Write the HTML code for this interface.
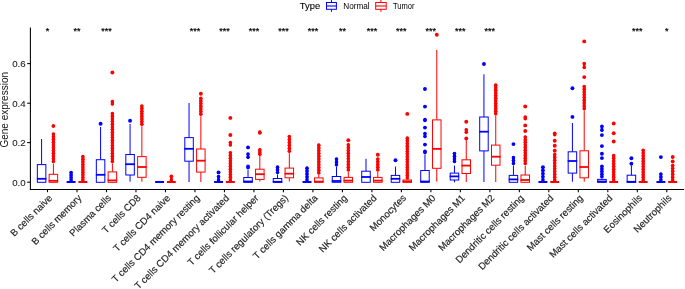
<!DOCTYPE html>
<html><head><meta charset="utf-8"><style>
html,body{margin:0;padding:0;background:#fff;}
body{width:685px;height:289px;overflow:hidden;}
svg{display:block;will-change:transform;}
text{font-family:"Liberation Sans",sans-serif;}
.tk{font-size:9.7px;fill:#222222;stroke:#222222;stroke-width:0.1px;}
.xl{font-size:9.7px;fill:#222222;stroke:#222222;stroke-width:0.15px;}
.st{font-size:9px;fill:#000;stroke:#000;stroke-width:0.2px;}
.yt{font-size:10px;fill:#111;}
.lt{font-size:9.4px;fill:#000;stroke:#000;stroke-width:0.1px;}
.lx{font-size:8.2px;fill:#000;}
</style></head><body>
<svg width="685" height="289" viewBox="0 0 685 289">
<rect width="685" height="289" fill="#fff"/>
<line x1="30.4" y1="27.4" x2="30.4" y2="190" stroke="#000000" stroke-width="1.07"/>
<line x1="29.9" y1="189.5" x2="684.2" y2="189.5" stroke="#000000" stroke-width="1.07"/>
<line x1="27.2" y1="182.2" x2="30.4" y2="182.2" stroke="#000000" stroke-width="1.07"/>
<text x="25.6" y="185.7" text-anchor="end" class="tk">0.0</text>
<line x1="27.2" y1="142.6" x2="30.4" y2="142.6" stroke="#000000" stroke-width="1.07"/>
<text x="25.6" y="146.1" text-anchor="end" class="tk">0.2</text>
<line x1="27.2" y1="103.2" x2="30.4" y2="103.2" stroke="#000000" stroke-width="1.07"/>
<text x="25.6" y="106.7" text-anchor="end" class="tk">0.4</text>
<line x1="27.2" y1="63.6" x2="30.4" y2="63.6" stroke="#000000" stroke-width="1.07"/>
<text x="25.6" y="67.1" text-anchor="end" class="tk">0.6</text>
<line x1="41.6" y1="139" x2="41.6" y2="164.6" stroke="#0000FF" stroke-width="1"/>
<rect x="37.35" y="164.6" width="8.5" height="17.7" fill="#fff" stroke="#0000FF" stroke-width="1"/>
<line x1="36.85" y1="178.8" x2="46.35" y2="178.8" stroke="#0000FF" stroke-width="1.8"/>
<line x1="53.4" y1="126" x2="53.4" y2="126" stroke="#FF0000" stroke-width="2.6" stroke-linecap="round"/>
<circle cx="53.4" cy="126" r="1.8" fill="#FF0000"/>
<circle cx="53.4" cy="126" r="1.8" fill="#FF0000"/>
<line x1="53.4" y1="134.05" x2="53.4" y2="161.45" stroke="#FF0000" stroke-width="2.6" stroke-linecap="round"/>
<circle cx="53.4" cy="134.05" r="1.8" fill="#FF0000"/>
<circle cx="53.4" cy="136.79" r="1.8" fill="#FF0000"/>
<circle cx="53.4" cy="139.53" r="1.8" fill="#FF0000"/>
<circle cx="53.4" cy="142.27" r="1.8" fill="#FF0000"/>
<circle cx="53.4" cy="145.01" r="1.8" fill="#FF0000"/>
<circle cx="53.4" cy="147.75" r="1.8" fill="#FF0000"/>
<circle cx="53.4" cy="150.49" r="1.8" fill="#FF0000"/>
<circle cx="53.4" cy="153.23" r="1.8" fill="#FF0000"/>
<circle cx="53.4" cy="155.97" r="1.8" fill="#FF0000"/>
<circle cx="53.4" cy="158.71" r="1.8" fill="#FF0000"/>
<circle cx="53.4" cy="161.45" r="1.8" fill="#FF0000"/>
<line x1="53.4" y1="163.6" x2="53.4" y2="174.3" stroke="#FF0000" stroke-width="1"/>
<rect x="49.15" y="174.3" width="8.5" height="8" fill="#fff" stroke="#FF0000" stroke-width="1"/>
<line x1="48.65" y1="180.8" x2="58.15" y2="180.8" stroke="#FF0000" stroke-width="1.8"/>
<line x1="47.5" y1="189.5" x2="47.5" y2="192.2" stroke="#000000" stroke-width="1.07"/>
<text x="47.5" y="34.4" text-anchor="middle" class="st">*</text>
<text transform="translate(52.8 198.6) rotate(-45)" text-anchor="end" class="xl">B cells naive</text>
<line x1="71.09" y1="172.45" x2="71.09" y2="180.05" stroke="#0000FF" stroke-width="2.6" stroke-linecap="round"/>
<circle cx="71.09" cy="172.45" r="1.8" fill="#0000FF"/>
<circle cx="71.09" cy="174.98" r="1.8" fill="#0000FF"/>
<circle cx="71.09" cy="177.52" r="1.8" fill="#0000FF"/>
<circle cx="71.09" cy="180.05" r="1.8" fill="#0000FF"/>
<line x1="66.64" y1="182" x2="75.54" y2="182" stroke="#0000FF" stroke-width="2"/>
<line x1="82.89" y1="156.65" x2="82.89" y2="180.05" stroke="#FF0000" stroke-width="2.6" stroke-linecap="round"/>
<circle cx="82.89" cy="156.65" r="1.8" fill="#FF0000"/>
<circle cx="82.89" cy="159.25" r="1.8" fill="#FF0000"/>
<circle cx="82.89" cy="161.85" r="1.8" fill="#FF0000"/>
<circle cx="82.89" cy="164.45" r="1.8" fill="#FF0000"/>
<circle cx="82.89" cy="167.05" r="1.8" fill="#FF0000"/>
<circle cx="82.89" cy="169.65" r="1.8" fill="#FF0000"/>
<circle cx="82.89" cy="172.25" r="1.8" fill="#FF0000"/>
<circle cx="82.89" cy="174.85" r="1.8" fill="#FF0000"/>
<circle cx="82.89" cy="177.45" r="1.8" fill="#FF0000"/>
<circle cx="82.89" cy="180.05" r="1.8" fill="#FF0000"/>
<line x1="78.44" y1="182" x2="87.34" y2="182" stroke="#FF0000" stroke-width="2"/>
<line x1="76.99" y1="189.5" x2="76.99" y2="192.2" stroke="#000000" stroke-width="1.07"/>
<text x="76.99" y="34.4" text-anchor="middle" class="st">**</text>
<text transform="translate(82.29 198.6) rotate(-45)" text-anchor="end" class="xl">B cells memory</text>
<circle cx="100.58" cy="123.8" r="1.95" fill="#0000FF"/>
<line x1="100.58" y1="127" x2="100.58" y2="159.7" stroke="#0000FF" stroke-width="1"/>
<rect x="96.33" y="159.7" width="8.5" height="22.6" fill="#fff" stroke="#0000FF" stroke-width="1"/>
<line x1="95.83" y1="174.8" x2="105.33" y2="174.8" stroke="#0000FF" stroke-width="1.8"/>
<circle cx="112.38" cy="72.5" r="1.95" fill="#FF0000"/>
<line x1="112.38" y1="101.65" x2="112.38" y2="103.95" stroke="#FF0000" stroke-width="2.6" stroke-linecap="round"/>
<circle cx="112.38" cy="101.65" r="1.8" fill="#FF0000"/>
<circle cx="112.38" cy="103.95" r="1.8" fill="#FF0000"/>
<line x1="112.38" y1="113.65" x2="112.38" y2="161.45" stroke="#FF0000" stroke-width="2.6" stroke-linecap="round"/>
<circle cx="112.38" cy="113.65" r="1.8" fill="#FF0000"/>
<circle cx="112.38" cy="116.31" r="1.8" fill="#FF0000"/>
<circle cx="112.38" cy="118.96" r="1.8" fill="#FF0000"/>
<circle cx="112.38" cy="121.62" r="1.8" fill="#FF0000"/>
<circle cx="112.38" cy="124.27" r="1.8" fill="#FF0000"/>
<circle cx="112.38" cy="126.93" r="1.8" fill="#FF0000"/>
<circle cx="112.38" cy="129.58" r="1.8" fill="#FF0000"/>
<circle cx="112.38" cy="132.24" r="1.8" fill="#FF0000"/>
<circle cx="112.38" cy="134.89" r="1.8" fill="#FF0000"/>
<circle cx="112.38" cy="137.55" r="1.8" fill="#FF0000"/>
<circle cx="112.38" cy="140.21" r="1.8" fill="#FF0000"/>
<circle cx="112.38" cy="142.86" r="1.8" fill="#FF0000"/>
<circle cx="112.38" cy="145.52" r="1.8" fill="#FF0000"/>
<circle cx="112.38" cy="148.17" r="1.8" fill="#FF0000"/>
<circle cx="112.38" cy="150.83" r="1.8" fill="#FF0000"/>
<circle cx="112.38" cy="153.48" r="1.8" fill="#FF0000"/>
<circle cx="112.38" cy="156.14" r="1.8" fill="#FF0000"/>
<circle cx="112.38" cy="158.79" r="1.8" fill="#FF0000"/>
<circle cx="112.38" cy="161.45" r="1.8" fill="#FF0000"/>
<line x1="112.38" y1="163.4" x2="112.38" y2="171.9" stroke="#FF0000" stroke-width="1"/>
<rect x="108.13" y="171.9" width="8.5" height="10.4" fill="#fff" stroke="#FF0000" stroke-width="1"/>
<line x1="107.63" y1="180.4" x2="117.13" y2="180.4" stroke="#FF0000" stroke-width="1.8"/>
<line x1="106.48" y1="189.5" x2="106.48" y2="192.2" stroke="#000000" stroke-width="1.07"/>
<text x="106.48" y="34.4" text-anchor="middle" class="st">***</text>
<text transform="translate(111.78 198.6) rotate(-45)" text-anchor="end" class="xl">Plasma cells</text>
<circle cx="130.07" cy="120.8" r="1.95" fill="#0000FF"/>
<line x1="130.07" y1="124" x2="130.07" y2="154.5" stroke="#0000FF" stroke-width="1"/>
<line x1="130.07" y1="175" x2="130.07" y2="181.7" stroke="#0000FF" stroke-width="1"/>
<rect x="125.82" y="154.5" width="8.5" height="20.5" fill="#fff" stroke="#0000FF" stroke-width="1"/>
<line x1="125.32" y1="164.2" x2="134.82" y2="164.2" stroke="#0000FF" stroke-width="1.8"/>
<line x1="141.87" y1="105.95" x2="141.87" y2="124.25" stroke="#FF0000" stroke-width="2.6" stroke-linecap="round"/>
<circle cx="141.87" cy="105.95" r="1.8" fill="#FF0000"/>
<circle cx="141.87" cy="108.56" r="1.8" fill="#FF0000"/>
<circle cx="141.87" cy="111.18" r="1.8" fill="#FF0000"/>
<circle cx="141.87" cy="113.79" r="1.8" fill="#FF0000"/>
<circle cx="141.87" cy="116.41" r="1.8" fill="#FF0000"/>
<circle cx="141.87" cy="119.02" r="1.8" fill="#FF0000"/>
<circle cx="141.87" cy="121.64" r="1.8" fill="#FF0000"/>
<circle cx="141.87" cy="124.25" r="1.8" fill="#FF0000"/>
<line x1="141.87" y1="126.2" x2="141.87" y2="156.6" stroke="#FF0000" stroke-width="1"/>
<line x1="141.87" y1="177.3" x2="141.87" y2="181.7" stroke="#FF0000" stroke-width="1"/>
<rect x="137.62" y="156.6" width="8.5" height="20.7" fill="#fff" stroke="#FF0000" stroke-width="1"/>
<line x1="137.12" y1="167" x2="146.62" y2="167" stroke="#FF0000" stroke-width="1.8"/>
<line x1="135.97" y1="189.5" x2="135.97" y2="192.2" stroke="#000000" stroke-width="1.07"/>
<text transform="translate(141.27 198.6) rotate(-45)" text-anchor="end" class="xl">T cells CD8</text>
<line x1="155.11" y1="182" x2="164.01" y2="182" stroke="#0000FF" stroke-width="2"/>
<line x1="171.36" y1="176.35" x2="171.36" y2="180.05" stroke="#FF0000" stroke-width="2.6" stroke-linecap="round"/>
<circle cx="171.36" cy="176.35" r="1.8" fill="#FF0000"/>
<circle cx="171.36" cy="180.05" r="1.8" fill="#FF0000"/>
<line x1="166.91" y1="182" x2="175.81" y2="182" stroke="#FF0000" stroke-width="2"/>
<line x1="165.46" y1="189.5" x2="165.46" y2="192.2" stroke="#000000" stroke-width="1.07"/>
<text transform="translate(170.76 198.6) rotate(-45)" text-anchor="end" class="xl">T cells CD4 naive</text>
<line x1="189.05" y1="103" x2="189.05" y2="137.6" stroke="#0000FF" stroke-width="1"/>
<line x1="189.05" y1="161.2" x2="189.05" y2="182" stroke="#0000FF" stroke-width="1"/>
<rect x="184.8" y="137.6" width="8.5" height="23.6" fill="#fff" stroke="#0000FF" stroke-width="1"/>
<line x1="184.3" y1="148.8" x2="193.8" y2="148.8" stroke="#0000FF" stroke-width="1.8"/>
<circle cx="200.85" cy="93.8" r="1.95" fill="#FF0000"/>
<line x1="200.85" y1="98.25" x2="200.85" y2="114.25" stroke="#FF0000" stroke-width="2.6" stroke-linecap="round"/>
<circle cx="200.85" cy="98.25" r="1.8" fill="#FF0000"/>
<circle cx="200.85" cy="100.92" r="1.8" fill="#FF0000"/>
<circle cx="200.85" cy="103.58" r="1.8" fill="#FF0000"/>
<circle cx="200.85" cy="106.25" r="1.8" fill="#FF0000"/>
<circle cx="200.85" cy="108.92" r="1.8" fill="#FF0000"/>
<circle cx="200.85" cy="111.58" r="1.8" fill="#FF0000"/>
<circle cx="200.85" cy="114.25" r="1.8" fill="#FF0000"/>
<line x1="200.85" y1="116.2" x2="200.85" y2="149" stroke="#FF0000" stroke-width="1"/>
<line x1="200.85" y1="172.1" x2="200.85" y2="182" stroke="#FF0000" stroke-width="1"/>
<rect x="196.6" y="149" width="8.5" height="23.1" fill="#fff" stroke="#FF0000" stroke-width="1"/>
<line x1="196.1" y1="160.7" x2="205.6" y2="160.7" stroke="#FF0000" stroke-width="1.8"/>
<line x1="194.95" y1="189.5" x2="194.95" y2="192.2" stroke="#000000" stroke-width="1.07"/>
<text x="194.95" y="34.4" text-anchor="middle" class="st">***</text>
<text transform="translate(200.25 198.6) rotate(-45)" text-anchor="end" class="xl">T cells CD4 memory resting</text>
<circle cx="218.54" cy="172.4" r="1.95" fill="#0000FF"/>
<line x1="218.54" y1="176.45" x2="218.54" y2="180.05" stroke="#0000FF" stroke-width="2.6" stroke-linecap="round"/>
<circle cx="218.54" cy="176.45" r="1.8" fill="#0000FF"/>
<circle cx="218.54" cy="180.05" r="1.8" fill="#0000FF"/>
<line x1="214.09" y1="182" x2="222.99" y2="182" stroke="#0000FF" stroke-width="2"/>
<circle cx="230.34" cy="117.9" r="1.95" fill="#FF0000"/>
<circle cx="230.34" cy="135" r="1.95" fill="#FF0000"/>
<line x1="230.34" y1="142.45" x2="230.34" y2="145.05" stroke="#FF0000" stroke-width="2.6" stroke-linecap="round"/>
<circle cx="230.34" cy="142.45" r="1.8" fill="#FF0000"/>
<circle cx="230.34" cy="145.05" r="1.8" fill="#FF0000"/>
<line x1="230.34" y1="152.75" x2="230.34" y2="180.05" stroke="#FF0000" stroke-width="2.6" stroke-linecap="round"/>
<circle cx="230.34" cy="152.75" r="1.8" fill="#FF0000"/>
<circle cx="230.34" cy="155.48" r="1.8" fill="#FF0000"/>
<circle cx="230.34" cy="158.21" r="1.8" fill="#FF0000"/>
<circle cx="230.34" cy="160.94" r="1.8" fill="#FF0000"/>
<circle cx="230.34" cy="163.67" r="1.8" fill="#FF0000"/>
<circle cx="230.34" cy="166.4" r="1.8" fill="#FF0000"/>
<circle cx="230.34" cy="169.13" r="1.8" fill="#FF0000"/>
<circle cx="230.34" cy="171.86" r="1.8" fill="#FF0000"/>
<circle cx="230.34" cy="174.59" r="1.8" fill="#FF0000"/>
<circle cx="230.34" cy="177.32" r="1.8" fill="#FF0000"/>
<circle cx="230.34" cy="180.05" r="1.8" fill="#FF0000"/>
<line x1="225.89" y1="182" x2="234.79" y2="182" stroke="#FF0000" stroke-width="2"/>
<line x1="224.44" y1="189.5" x2="224.44" y2="192.2" stroke="#000000" stroke-width="1.07"/>
<text x="224.44" y="34.4" text-anchor="middle" class="st">***</text>
<text transform="translate(229.74 198.6) rotate(-45)" text-anchor="end" class="xl">T cells CD4 memory activated</text>
<circle cx="248.03" cy="147.4" r="1.95" fill="#0000FF"/>
<line x1="248.03" y1="153.95" x2="248.03" y2="157.35" stroke="#0000FF" stroke-width="2.6" stroke-linecap="round"/>
<circle cx="248.03" cy="153.95" r="1.8" fill="#0000FF"/>
<circle cx="248.03" cy="157.35" r="1.8" fill="#0000FF"/>
<line x1="248.03" y1="166.35" x2="248.03" y2="167.65" stroke="#0000FF" stroke-width="2.6" stroke-linecap="round"/>
<circle cx="248.03" cy="166.35" r="1.8" fill="#0000FF"/>
<circle cx="248.03" cy="167.65" r="1.8" fill="#0000FF"/>
<line x1="248.03" y1="170" x2="248.03" y2="177.5" stroke="#0000FF" stroke-width="1"/>
<rect x="243.78" y="177.5" width="8.5" height="4.8" fill="#fff" stroke="#0000FF" stroke-width="1"/>
<line x1="243.28" y1="181.5" x2="252.78" y2="181.5" stroke="#0000FF" stroke-width="1.8"/>
<line x1="259.83" y1="132.15" x2="259.83" y2="133.05" stroke="#FF0000" stroke-width="2.6" stroke-linecap="round"/>
<circle cx="259.83" cy="132.15" r="1.8" fill="#FF0000"/>
<circle cx="259.83" cy="133.05" r="1.8" fill="#FF0000"/>
<line x1="259.83" y1="149.75" x2="259.83" y2="154.15" stroke="#FF0000" stroke-width="2.6" stroke-linecap="round"/>
<circle cx="259.83" cy="149.75" r="1.8" fill="#FF0000"/>
<circle cx="259.83" cy="151.95" r="1.8" fill="#FF0000"/>
<circle cx="259.83" cy="154.15" r="1.8" fill="#FF0000"/>
<line x1="259.83" y1="155.7" x2="259.83" y2="169.2" stroke="#FF0000" stroke-width="1"/>
<line x1="259.83" y1="179.4" x2="259.83" y2="181.5" stroke="#FF0000" stroke-width="1"/>
<rect x="255.58" y="169.2" width="8.5" height="10.2" fill="#fff" stroke="#FF0000" stroke-width="1"/>
<line x1="255.08" y1="174.2" x2="264.58" y2="174.2" stroke="#FF0000" stroke-width="1.8"/>
<line x1="253.93" y1="189.5" x2="253.93" y2="192.2" stroke="#000000" stroke-width="1.07"/>
<text x="253.93" y="34.4" text-anchor="middle" class="st">***</text>
<text transform="translate(259.23 198.6) rotate(-45)" text-anchor="end" class="xl">T cells follicular helper</text>
<line x1="277.52" y1="167.15" x2="277.52" y2="172.45" stroke="#0000FF" stroke-width="2.6" stroke-linecap="round"/>
<circle cx="277.52" cy="167.15" r="1.8" fill="#0000FF"/>
<circle cx="277.52" cy="169.8" r="1.8" fill="#0000FF"/>
<circle cx="277.52" cy="172.45" r="1.8" fill="#0000FF"/>
<line x1="277.52" y1="174.4" x2="277.52" y2="178.5" stroke="#0000FF" stroke-width="1"/>
<rect x="273.27" y="178.5" width="8.5" height="3.8" fill="#fff" stroke="#0000FF" stroke-width="1"/>
<line x1="272.77" y1="181.8" x2="282.27" y2="181.8" stroke="#0000FF" stroke-width="1.8"/>
<line x1="289.32" y1="136.55" x2="289.32" y2="151.15" stroke="#FF0000" stroke-width="2.6" stroke-linecap="round"/>
<circle cx="289.32" cy="136.55" r="1.8" fill="#FF0000"/>
<circle cx="289.32" cy="139.47" r="1.8" fill="#FF0000"/>
<circle cx="289.32" cy="142.39" r="1.8" fill="#FF0000"/>
<circle cx="289.32" cy="145.31" r="1.8" fill="#FF0000"/>
<circle cx="289.32" cy="148.23" r="1.8" fill="#FF0000"/>
<circle cx="289.32" cy="151.15" r="1.8" fill="#FF0000"/>
<line x1="289.32" y1="153.1" x2="289.32" y2="168.1" stroke="#FF0000" stroke-width="1"/>
<line x1="289.32" y1="177.8" x2="289.32" y2="181.6" stroke="#FF0000" stroke-width="1"/>
<rect x="285.07" y="168.1" width="8.5" height="9.7" fill="#fff" stroke="#FF0000" stroke-width="1"/>
<line x1="284.57" y1="173.7" x2="294.07" y2="173.7" stroke="#FF0000" stroke-width="1.8"/>
<line x1="283.42" y1="189.5" x2="283.42" y2="192.2" stroke="#000000" stroke-width="1.07"/>
<text x="283.42" y="34.4" text-anchor="middle" class="st">***</text>
<text transform="translate(288.72 198.6) rotate(-45)" text-anchor="end" class="xl">T cells regulatory (Tregs)</text>
<line x1="307.01" y1="168.15" x2="307.01" y2="180.05" stroke="#0000FF" stroke-width="2.6" stroke-linecap="round"/>
<circle cx="307.01" cy="168.15" r="1.8" fill="#0000FF"/>
<circle cx="307.01" cy="171.12" r="1.8" fill="#0000FF"/>
<circle cx="307.01" cy="174.1" r="1.8" fill="#0000FF"/>
<circle cx="307.01" cy="177.07" r="1.8" fill="#0000FF"/>
<circle cx="307.01" cy="180.05" r="1.8" fill="#0000FF"/>
<line x1="302.56" y1="182" x2="311.46" y2="182" stroke="#0000FF" stroke-width="2"/>
<line x1="318.81" y1="145.15" x2="318.81" y2="173.05" stroke="#FF0000" stroke-width="2.6" stroke-linecap="round"/>
<circle cx="318.81" cy="145.15" r="1.8" fill="#FF0000"/>
<circle cx="318.81" cy="147.94" r="1.8" fill="#FF0000"/>
<circle cx="318.81" cy="150.73" r="1.8" fill="#FF0000"/>
<circle cx="318.81" cy="153.52" r="1.8" fill="#FF0000"/>
<circle cx="318.81" cy="156.31" r="1.8" fill="#FF0000"/>
<circle cx="318.81" cy="159.1" r="1.8" fill="#FF0000"/>
<circle cx="318.81" cy="161.89" r="1.8" fill="#FF0000"/>
<circle cx="318.81" cy="164.68" r="1.8" fill="#FF0000"/>
<circle cx="318.81" cy="167.47" r="1.8" fill="#FF0000"/>
<circle cx="318.81" cy="170.26" r="1.8" fill="#FF0000"/>
<circle cx="318.81" cy="173.05" r="1.8" fill="#FF0000"/>
<line x1="318.81" y1="175" x2="318.81" y2="177.9" stroke="#FF0000" stroke-width="1"/>
<rect x="314.56" y="177.9" width="8.5" height="4.4" fill="#fff" stroke="#FF0000" stroke-width="1"/>
<line x1="314.06" y1="181.6" x2="323.56" y2="181.6" stroke="#FF0000" stroke-width="1.8"/>
<line x1="312.91" y1="189.5" x2="312.91" y2="192.2" stroke="#000000" stroke-width="1.07"/>
<text x="312.91" y="34.4" text-anchor="middle" class="st">***</text>
<text transform="translate(318.21 198.6) rotate(-45)" text-anchor="end" class="xl">T cells gamma delta</text>
<line x1="336.5" y1="159.05" x2="336.5" y2="164.85" stroke="#0000FF" stroke-width="2.6" stroke-linecap="round"/>
<circle cx="336.5" cy="159.05" r="1.8" fill="#0000FF"/>
<circle cx="336.5" cy="161.95" r="1.8" fill="#0000FF"/>
<circle cx="336.5" cy="164.85" r="1.8" fill="#0000FF"/>
<line x1="336.5" y1="166.8" x2="336.5" y2="176.5" stroke="#0000FF" stroke-width="1"/>
<rect x="332.25" y="176.5" width="8.5" height="5.8" fill="#fff" stroke="#0000FF" stroke-width="1"/>
<line x1="331.75" y1="181" x2="341.25" y2="181" stroke="#0000FF" stroke-width="1.8"/>
<circle cx="348.3" cy="140.3" r="1.95" fill="#FF0000"/>
<line x1="348.3" y1="144.85" x2="348.3" y2="170.05" stroke="#FF0000" stroke-width="2.6" stroke-linecap="round"/>
<circle cx="348.3" cy="144.85" r="1.8" fill="#FF0000"/>
<circle cx="348.3" cy="147.65" r="1.8" fill="#FF0000"/>
<circle cx="348.3" cy="150.45" r="1.8" fill="#FF0000"/>
<circle cx="348.3" cy="153.25" r="1.8" fill="#FF0000"/>
<circle cx="348.3" cy="156.05" r="1.8" fill="#FF0000"/>
<circle cx="348.3" cy="158.85" r="1.8" fill="#FF0000"/>
<circle cx="348.3" cy="161.65" r="1.8" fill="#FF0000"/>
<circle cx="348.3" cy="164.45" r="1.8" fill="#FF0000"/>
<circle cx="348.3" cy="167.25" r="1.8" fill="#FF0000"/>
<circle cx="348.3" cy="170.05" r="1.8" fill="#FF0000"/>
<line x1="348.3" y1="172" x2="348.3" y2="177.4" stroke="#FF0000" stroke-width="1"/>
<rect x="344.05" y="177.4" width="8.5" height="4.9" fill="#fff" stroke="#FF0000" stroke-width="1"/>
<line x1="343.55" y1="180.6" x2="353.05" y2="180.6" stroke="#FF0000" stroke-width="1.8"/>
<line x1="342.4" y1="189.5" x2="342.4" y2="192.2" stroke="#000000" stroke-width="1.07"/>
<text x="342.4" y="34.4" text-anchor="middle" class="st">**</text>
<text transform="translate(347.7 198.6) rotate(-45)" text-anchor="end" class="xl">NK cells resting</text>
<line x1="365.99" y1="158.8" x2="365.99" y2="171.2" stroke="#0000FF" stroke-width="1"/>
<rect x="361.74" y="171.2" width="8.5" height="11.1" fill="#fff" stroke="#0000FF" stroke-width="1"/>
<line x1="361.24" y1="177" x2="370.74" y2="177" stroke="#0000FF" stroke-width="1.8"/>
<circle cx="377.79" cy="154.8" r="1.95" fill="#FF0000"/>
<line x1="377.79" y1="158.95" x2="377.79" y2="170.05" stroke="#FF0000" stroke-width="2.6" stroke-linecap="round"/>
<circle cx="377.79" cy="158.95" r="1.8" fill="#FF0000"/>
<circle cx="377.79" cy="161.72" r="1.8" fill="#FF0000"/>
<circle cx="377.79" cy="164.5" r="1.8" fill="#FF0000"/>
<circle cx="377.79" cy="167.28" r="1.8" fill="#FF0000"/>
<circle cx="377.79" cy="170.05" r="1.8" fill="#FF0000"/>
<line x1="377.79" y1="172" x2="377.79" y2="177.4" stroke="#FF0000" stroke-width="1"/>
<rect x="373.54" y="177.4" width="8.5" height="4.9" fill="#fff" stroke="#FF0000" stroke-width="1"/>
<line x1="373.04" y1="180.6" x2="382.54" y2="180.6" stroke="#FF0000" stroke-width="1.8"/>
<line x1="371.89" y1="189.5" x2="371.89" y2="192.2" stroke="#000000" stroke-width="1.07"/>
<text x="371.89" y="34.4" text-anchor="middle" class="st">***</text>
<text transform="translate(377.19 198.6) rotate(-45)" text-anchor="end" class="xl">NK cells activated</text>
<circle cx="395.48" cy="160.2" r="1.95" fill="#0000FF"/>
<line x1="395.48" y1="166.6" x2="395.48" y2="175.4" stroke="#0000FF" stroke-width="1"/>
<rect x="391.23" y="175.4" width="8.5" height="6.9" fill="#fff" stroke="#0000FF" stroke-width="1"/>
<line x1="390.73" y1="178.8" x2="400.23" y2="178.8" stroke="#0000FF" stroke-width="1.8"/>
<circle cx="407.28" cy="113.9" r="1.95" fill="#FF0000"/>
<line x1="407.28" y1="138.15" x2="407.28" y2="178.05" stroke="#FF0000" stroke-width="2.6" stroke-linecap="round"/>
<circle cx="407.28" cy="138.15" r="1.8" fill="#FF0000"/>
<circle cx="407.28" cy="140.81" r="1.8" fill="#FF0000"/>
<circle cx="407.28" cy="143.47" r="1.8" fill="#FF0000"/>
<circle cx="407.28" cy="146.13" r="1.8" fill="#FF0000"/>
<circle cx="407.28" cy="148.79" r="1.8" fill="#FF0000"/>
<circle cx="407.28" cy="151.45" r="1.8" fill="#FF0000"/>
<circle cx="407.28" cy="154.11" r="1.8" fill="#FF0000"/>
<circle cx="407.28" cy="156.77" r="1.8" fill="#FF0000"/>
<circle cx="407.28" cy="159.43" r="1.8" fill="#FF0000"/>
<circle cx="407.28" cy="162.09" r="1.8" fill="#FF0000"/>
<circle cx="407.28" cy="164.75" r="1.8" fill="#FF0000"/>
<circle cx="407.28" cy="167.41" r="1.8" fill="#FF0000"/>
<circle cx="407.28" cy="170.07" r="1.8" fill="#FF0000"/>
<circle cx="407.28" cy="172.73" r="1.8" fill="#FF0000"/>
<circle cx="407.28" cy="175.39" r="1.8" fill="#FF0000"/>
<circle cx="407.28" cy="178.05" r="1.8" fill="#FF0000"/>
<rect x="403.03" y="180" width="8.5" height="2.3" fill="#fff" stroke="#FF0000" stroke-width="1"/>
<line x1="402.53" y1="181.5" x2="412.03" y2="181.5" stroke="#FF0000" stroke-width="1.8"/>
<line x1="401.38" y1="189.5" x2="401.38" y2="192.2" stroke="#000000" stroke-width="1.07"/>
<text x="401.38" y="34.4" text-anchor="middle" class="st">***</text>
<text transform="translate(406.68 198.6) rotate(-45)" text-anchor="end" class="xl">Monocytes</text>
<circle cx="424.97" cy="89" r="1.95" fill="#0000FF"/>
<circle cx="424.97" cy="106.6" r="1.95" fill="#0000FF"/>
<line x1="424.97" y1="119.55" x2="424.97" y2="120.45" stroke="#0000FF" stroke-width="2.6" stroke-linecap="round"/>
<circle cx="424.97" cy="119.55" r="1.8" fill="#0000FF"/>
<circle cx="424.97" cy="120.45" r="1.8" fill="#0000FF"/>
<circle cx="424.97" cy="127.6" r="1.95" fill="#0000FF"/>
<line x1="424.97" y1="133.55" x2="424.97" y2="136.45" stroke="#0000FF" stroke-width="2.6" stroke-linecap="round"/>
<circle cx="424.97" cy="133.55" r="1.8" fill="#0000FF"/>
<circle cx="424.97" cy="136.45" r="1.8" fill="#0000FF"/>
<circle cx="424.97" cy="144.6" r="1.95" fill="#0000FF"/>
<line x1="424.97" y1="151.35" x2="424.97" y2="152.45" stroke="#0000FF" stroke-width="2.6" stroke-linecap="round"/>
<circle cx="424.97" cy="151.35" r="1.8" fill="#0000FF"/>
<circle cx="424.97" cy="152.45" r="1.8" fill="#0000FF"/>
<line x1="424.97" y1="154.4" x2="424.97" y2="170.5" stroke="#0000FF" stroke-width="1"/>
<rect x="420.72" y="170.5" width="8.5" height="11.8" fill="#fff" stroke="#0000FF" stroke-width="1"/>
<line x1="420.22" y1="181.5" x2="429.72" y2="181.5" stroke="#0000FF" stroke-width="1.8"/>
<circle cx="436.77" cy="34.8" r="1.95" fill="#FF0000"/>
<line x1="436.77" y1="49.9" x2="436.77" y2="119.9" stroke="#FF0000" stroke-width="1"/>
<line x1="436.77" y1="168.3" x2="436.77" y2="181.7" stroke="#FF0000" stroke-width="1"/>
<rect x="432.52" y="119.9" width="8.5" height="48.4" fill="#fff" stroke="#FF0000" stroke-width="1"/>
<line x1="432.02" y1="148.9" x2="441.52" y2="148.9" stroke="#FF0000" stroke-width="1.8"/>
<line x1="430.87" y1="189.5" x2="430.87" y2="192.2" stroke="#000000" stroke-width="1.07"/>
<text x="430.87" y="34.4" text-anchor="middle" class="st">***</text>
<text transform="translate(436.17 198.6) rotate(-45)" text-anchor="end" class="xl">Macrophages M0</text>
<line x1="454.46" y1="153.55" x2="454.46" y2="161.55" stroke="#0000FF" stroke-width="2.6" stroke-linecap="round"/>
<circle cx="454.46" cy="153.55" r="1.8" fill="#0000FF"/>
<circle cx="454.46" cy="156.22" r="1.8" fill="#0000FF"/>
<circle cx="454.46" cy="158.88" r="1.8" fill="#0000FF"/>
<circle cx="454.46" cy="161.55" r="1.8" fill="#0000FF"/>
<line x1="454.46" y1="165.6" x2="454.46" y2="173.1" stroke="#0000FF" stroke-width="1"/>
<line x1="454.46" y1="180" x2="454.46" y2="182.3" stroke="#0000FF" stroke-width="1"/>
<rect x="450.21" y="173.1" width="8.5" height="6.9" fill="#fff" stroke="#0000FF" stroke-width="1"/>
<line x1="449.71" y1="176.4" x2="459.21" y2="176.4" stroke="#0000FF" stroke-width="1.8"/>
<circle cx="466.26" cy="121.8" r="1.95" fill="#FF0000"/>
<line x1="466.26" y1="129.85" x2="466.26" y2="132.25" stroke="#FF0000" stroke-width="2.6" stroke-linecap="round"/>
<circle cx="466.26" cy="129.85" r="1.8" fill="#FF0000"/>
<circle cx="466.26" cy="132.25" r="1.8" fill="#FF0000"/>
<circle cx="466.26" cy="138.4" r="1.95" fill="#FF0000"/>
<line x1="466.26" y1="140" x2="466.26" y2="159.8" stroke="#FF0000" stroke-width="1"/>
<line x1="466.26" y1="173.5" x2="466.26" y2="182" stroke="#FF0000" stroke-width="1"/>
<rect x="462.01" y="159.8" width="8.5" height="13.7" fill="#fff" stroke="#FF0000" stroke-width="1"/>
<line x1="461.51" y1="165.6" x2="471.01" y2="165.6" stroke="#FF0000" stroke-width="1.8"/>
<line x1="460.36" y1="189.5" x2="460.36" y2="192.2" stroke="#000000" stroke-width="1.07"/>
<text x="460.36" y="34.4" text-anchor="middle" class="st">***</text>
<text transform="translate(465.66 198.6) rotate(-45)" text-anchor="end" class="xl">Macrophages M1</text>
<circle cx="483.95" cy="64" r="1.95" fill="#0000FF"/>
<line x1="483.95" y1="74.3" x2="483.95" y2="117" stroke="#0000FF" stroke-width="1"/>
<line x1="483.95" y1="150.9" x2="483.95" y2="182" stroke="#0000FF" stroke-width="1"/>
<rect x="479.7" y="117" width="8.5" height="33.9" fill="#fff" stroke="#0000FF" stroke-width="1"/>
<line x1="479.2" y1="131.7" x2="488.7" y2="131.7" stroke="#0000FF" stroke-width="1.8"/>
<line x1="495.75" y1="85.15" x2="495.75" y2="113.85" stroke="#FF0000" stroke-width="2.6" stroke-linecap="round"/>
<circle cx="495.75" cy="85.15" r="1.8" fill="#FF0000"/>
<circle cx="495.75" cy="87.76" r="1.8" fill="#FF0000"/>
<circle cx="495.75" cy="90.37" r="1.8" fill="#FF0000"/>
<circle cx="495.75" cy="92.98" r="1.8" fill="#FF0000"/>
<circle cx="495.75" cy="95.59" r="1.8" fill="#FF0000"/>
<circle cx="495.75" cy="98.2" r="1.8" fill="#FF0000"/>
<circle cx="495.75" cy="100.8" r="1.8" fill="#FF0000"/>
<circle cx="495.75" cy="103.41" r="1.8" fill="#FF0000"/>
<circle cx="495.75" cy="106.02" r="1.8" fill="#FF0000"/>
<circle cx="495.75" cy="108.63" r="1.8" fill="#FF0000"/>
<circle cx="495.75" cy="111.24" r="1.8" fill="#FF0000"/>
<circle cx="495.75" cy="113.85" r="1.8" fill="#FF0000"/>
<line x1="495.75" y1="115.8" x2="495.75" y2="145.1" stroke="#FF0000" stroke-width="1"/>
<line x1="495.75" y1="165.2" x2="495.75" y2="182" stroke="#FF0000" stroke-width="1"/>
<rect x="491.5" y="145.1" width="8.5" height="20.1" fill="#fff" stroke="#FF0000" stroke-width="1"/>
<line x1="491" y1="156.7" x2="500.5" y2="156.7" stroke="#FF0000" stroke-width="1.8"/>
<line x1="489.85" y1="189.5" x2="489.85" y2="192.2" stroke="#000000" stroke-width="1.07"/>
<text x="489.85" y="34.4" text-anchor="middle" class="st">***</text>
<text transform="translate(495.15 198.6) rotate(-45)" text-anchor="end" class="xl">Macrophages M2</text>
<circle cx="513.44" cy="144.1" r="1.95" fill="#0000FF"/>
<line x1="513.44" y1="157.65" x2="513.44" y2="163.45" stroke="#0000FF" stroke-width="2.6" stroke-linecap="round"/>
<circle cx="513.44" cy="157.65" r="1.8" fill="#0000FF"/>
<circle cx="513.44" cy="160.55" r="1.8" fill="#0000FF"/>
<circle cx="513.44" cy="163.45" r="1.8" fill="#0000FF"/>
<line x1="513.44" y1="165.4" x2="513.44" y2="175.4" stroke="#0000FF" stroke-width="1"/>
<rect x="509.19" y="175.4" width="8.5" height="6.9" fill="#fff" stroke="#0000FF" stroke-width="1"/>
<line x1="508.69" y1="179.4" x2="518.19" y2="179.4" stroke="#0000FF" stroke-width="1.8"/>
<circle cx="525.24" cy="106.5" r="1.95" fill="#FF0000"/>
<line x1="525.24" y1="116.95" x2="525.24" y2="118.65" stroke="#FF0000" stroke-width="2.6" stroke-linecap="round"/>
<circle cx="525.24" cy="116.95" r="1.8" fill="#FF0000"/>
<circle cx="525.24" cy="118.65" r="1.8" fill="#FF0000"/>
<circle cx="525.24" cy="125.4" r="1.95" fill="#FF0000"/>
<circle cx="525.24" cy="131" r="1.95" fill="#FF0000"/>
<line x1="525.24" y1="137.05" x2="525.24" y2="163.45" stroke="#FF0000" stroke-width="2.6" stroke-linecap="round"/>
<circle cx="525.24" cy="137.05" r="1.8" fill="#FF0000"/>
<circle cx="525.24" cy="139.69" r="1.8" fill="#FF0000"/>
<circle cx="525.24" cy="142.33" r="1.8" fill="#FF0000"/>
<circle cx="525.24" cy="144.97" r="1.8" fill="#FF0000"/>
<circle cx="525.24" cy="147.61" r="1.8" fill="#FF0000"/>
<circle cx="525.24" cy="150.25" r="1.8" fill="#FF0000"/>
<circle cx="525.24" cy="152.89" r="1.8" fill="#FF0000"/>
<circle cx="525.24" cy="155.53" r="1.8" fill="#FF0000"/>
<circle cx="525.24" cy="158.17" r="1.8" fill="#FF0000"/>
<circle cx="525.24" cy="160.81" r="1.8" fill="#FF0000"/>
<circle cx="525.24" cy="163.45" r="1.8" fill="#FF0000"/>
<line x1="525.24" y1="165.6" x2="525.24" y2="175" stroke="#FF0000" stroke-width="1"/>
<rect x="520.99" y="175" width="8.5" height="7.3" fill="#fff" stroke="#FF0000" stroke-width="1"/>
<line x1="520.49" y1="180" x2="529.99" y2="180" stroke="#FF0000" stroke-width="1.8"/>
<line x1="519.34" y1="189.5" x2="519.34" y2="192.2" stroke="#000000" stroke-width="1.07"/>
<text transform="translate(524.64 198.6) rotate(-45)" text-anchor="end" class="xl">Dendritic cells resting</text>
<circle cx="542.93" cy="167.2" r="1.95" fill="#0000FF"/>
<circle cx="542.93" cy="170.4" r="1.95" fill="#0000FF"/>
<line x1="542.93" y1="173.55" x2="542.93" y2="180.05" stroke="#0000FF" stroke-width="2.6" stroke-linecap="round"/>
<circle cx="542.93" cy="173.55" r="1.8" fill="#0000FF"/>
<circle cx="542.93" cy="176.8" r="1.8" fill="#0000FF"/>
<circle cx="542.93" cy="180.05" r="1.8" fill="#0000FF"/>
<line x1="538.48" y1="182" x2="547.38" y2="182" stroke="#0000FF" stroke-width="2"/>
<line x1="554.73" y1="133.25" x2="554.73" y2="134.65" stroke="#FF0000" stroke-width="2.6" stroke-linecap="round"/>
<circle cx="554.73" cy="133.25" r="1.8" fill="#FF0000"/>
<circle cx="554.73" cy="134.65" r="1.8" fill="#FF0000"/>
<circle cx="554.73" cy="140.8" r="1.95" fill="#FF0000"/>
<circle cx="554.73" cy="145.7" r="1.95" fill="#FF0000"/>
<circle cx="554.73" cy="150.7" r="1.95" fill="#FF0000"/>
<line x1="554.73" y1="154.55" x2="554.73" y2="180.05" stroke="#FF0000" stroke-width="2.6" stroke-linecap="round"/>
<circle cx="554.73" cy="154.55" r="1.8" fill="#FF0000"/>
<circle cx="554.73" cy="157.38" r="1.8" fill="#FF0000"/>
<circle cx="554.73" cy="160.22" r="1.8" fill="#FF0000"/>
<circle cx="554.73" cy="163.05" r="1.8" fill="#FF0000"/>
<circle cx="554.73" cy="165.88" r="1.8" fill="#FF0000"/>
<circle cx="554.73" cy="168.72" r="1.8" fill="#FF0000"/>
<circle cx="554.73" cy="171.55" r="1.8" fill="#FF0000"/>
<circle cx="554.73" cy="174.38" r="1.8" fill="#FF0000"/>
<circle cx="554.73" cy="177.22" r="1.8" fill="#FF0000"/>
<circle cx="554.73" cy="180.05" r="1.8" fill="#FF0000"/>
<line x1="550.28" y1="182" x2="559.18" y2="182" stroke="#FF0000" stroke-width="2"/>
<line x1="548.83" y1="189.5" x2="548.83" y2="192.2" stroke="#000000" stroke-width="1.07"/>
<text transform="translate(554.13 198.6) rotate(-45)" text-anchor="end" class="xl">Dendritic cells activated</text>
<circle cx="572.42" cy="88.2" r="1.95" fill="#0000FF"/>
<circle cx="572.42" cy="116.9" r="1.95" fill="#0000FF"/>
<line x1="572.42" y1="123" x2="572.42" y2="151.8" stroke="#0000FF" stroke-width="1"/>
<line x1="572.42" y1="173.1" x2="572.42" y2="181.7" stroke="#0000FF" stroke-width="1"/>
<rect x="568.17" y="151.8" width="8.5" height="21.3" fill="#fff" stroke="#0000FF" stroke-width="1"/>
<line x1="567.67" y1="161" x2="577.17" y2="161" stroke="#0000FF" stroke-width="1.8"/>
<circle cx="584.22" cy="41.4" r="1.95" fill="#FF0000"/>
<line x1="584.22" y1="63.55" x2="584.22" y2="67.55" stroke="#FF0000" stroke-width="2.6" stroke-linecap="round"/>
<circle cx="584.22" cy="63.55" r="1.8" fill="#FF0000"/>
<circle cx="584.22" cy="67.55" r="1.8" fill="#FF0000"/>
<circle cx="584.22" cy="77.1" r="1.95" fill="#FF0000"/>
<line x1="584.22" y1="86.55" x2="584.22" y2="108.65" stroke="#FF0000" stroke-width="2.6" stroke-linecap="round"/>
<circle cx="584.22" cy="86.55" r="1.8" fill="#FF0000"/>
<circle cx="584.22" cy="89.31" r="1.8" fill="#FF0000"/>
<circle cx="584.22" cy="92.07" r="1.8" fill="#FF0000"/>
<circle cx="584.22" cy="94.84" r="1.8" fill="#FF0000"/>
<circle cx="584.22" cy="97.6" r="1.8" fill="#FF0000"/>
<circle cx="584.22" cy="100.36" r="1.8" fill="#FF0000"/>
<circle cx="584.22" cy="103.12" r="1.8" fill="#FF0000"/>
<circle cx="584.22" cy="105.89" r="1.8" fill="#FF0000"/>
<circle cx="584.22" cy="108.65" r="1.8" fill="#FF0000"/>
<line x1="584.22" y1="110.6" x2="584.22" y2="150.8" stroke="#FF0000" stroke-width="1"/>
<line x1="584.22" y1="177.8" x2="584.22" y2="181.7" stroke="#FF0000" stroke-width="1"/>
<rect x="579.97" y="150.8" width="8.5" height="27" fill="#fff" stroke="#FF0000" stroke-width="1"/>
<line x1="579.47" y1="167" x2="588.97" y2="167" stroke="#FF0000" stroke-width="1.8"/>
<line x1="578.32" y1="189.5" x2="578.32" y2="192.2" stroke="#000000" stroke-width="1.07"/>
<text transform="translate(583.62 198.6) rotate(-45)" text-anchor="end" class="xl">Mast cells resting</text>
<line x1="601.91" y1="126.35" x2="601.91" y2="130.25" stroke="#0000FF" stroke-width="2.6" stroke-linecap="round"/>
<circle cx="601.91" cy="126.35" r="1.8" fill="#0000FF"/>
<circle cx="601.91" cy="130.25" r="1.8" fill="#0000FF"/>
<circle cx="601.91" cy="135.1" r="1.95" fill="#0000FF"/>
<circle cx="601.91" cy="146.1" r="1.95" fill="#0000FF"/>
<circle cx="601.91" cy="153.7" r="1.95" fill="#0000FF"/>
<circle cx="601.91" cy="158.1" r="1.95" fill="#0000FF"/>
<line x1="601.91" y1="166.25" x2="601.91" y2="176.85" stroke="#0000FF" stroke-width="2.6" stroke-linecap="round"/>
<circle cx="601.91" cy="166.25" r="1.8" fill="#0000FF"/>
<circle cx="601.91" cy="168.9" r="1.8" fill="#0000FF"/>
<circle cx="601.91" cy="171.55" r="1.8" fill="#0000FF"/>
<circle cx="601.91" cy="174.2" r="1.8" fill="#0000FF"/>
<circle cx="601.91" cy="176.85" r="1.8" fill="#0000FF"/>
<rect x="597.66" y="179.4" width="8.5" height="2.9" fill="#fff" stroke="#0000FF" stroke-width="1"/>
<line x1="597.16" y1="181.5" x2="606.66" y2="181.5" stroke="#0000FF" stroke-width="1.8"/>
<circle cx="613.71" cy="123.5" r="1.95" fill="#FF0000"/>
<circle cx="613.71" cy="133.3" r="1.95" fill="#FF0000"/>
<circle cx="613.71" cy="141.5" r="1.95" fill="#FF0000"/>
<line x1="613.71" y1="155.65" x2="613.71" y2="180.05" stroke="#FF0000" stroke-width="2.6" stroke-linecap="round"/>
<circle cx="613.71" cy="155.65" r="1.8" fill="#FF0000"/>
<circle cx="613.71" cy="158.36" r="1.8" fill="#FF0000"/>
<circle cx="613.71" cy="161.07" r="1.8" fill="#FF0000"/>
<circle cx="613.71" cy="163.78" r="1.8" fill="#FF0000"/>
<circle cx="613.71" cy="166.49" r="1.8" fill="#FF0000"/>
<circle cx="613.71" cy="169.21" r="1.8" fill="#FF0000"/>
<circle cx="613.71" cy="171.92" r="1.8" fill="#FF0000"/>
<circle cx="613.71" cy="174.63" r="1.8" fill="#FF0000"/>
<circle cx="613.71" cy="177.34" r="1.8" fill="#FF0000"/>
<circle cx="613.71" cy="180.05" r="1.8" fill="#FF0000"/>
<line x1="609.26" y1="182" x2="618.16" y2="182" stroke="#FF0000" stroke-width="2"/>
<line x1="607.81" y1="189.5" x2="607.81" y2="192.2" stroke="#000000" stroke-width="1.07"/>
<text transform="translate(613.11 198.6) rotate(-45)" text-anchor="end" class="xl">Mast cells activated</text>
<circle cx="631.4" cy="158.3" r="1.95" fill="#0000FF"/>
<line x1="631.4" y1="163.45" x2="631.4" y2="163.95" stroke="#0000FF" stroke-width="2.6" stroke-linecap="round"/>
<circle cx="631.4" cy="163.45" r="1.8" fill="#0000FF"/>
<circle cx="631.4" cy="163.95" r="1.8" fill="#0000FF"/>
<line x1="631.4" y1="165.9" x2="631.4" y2="175.2" stroke="#0000FF" stroke-width="1"/>
<rect x="627.15" y="175.2" width="8.5" height="7.1" fill="#fff" stroke="#0000FF" stroke-width="1"/>
<line x1="626.65" y1="181.8" x2="636.15" y2="181.8" stroke="#0000FF" stroke-width="1.8"/>
<line x1="643.2" y1="150.35" x2="643.2" y2="180.05" stroke="#FF0000" stroke-width="2.6" stroke-linecap="round"/>
<circle cx="643.2" cy="150.35" r="1.8" fill="#FF0000"/>
<circle cx="643.2" cy="153.05" r="1.8" fill="#FF0000"/>
<circle cx="643.2" cy="155.75" r="1.8" fill="#FF0000"/>
<circle cx="643.2" cy="158.45" r="1.8" fill="#FF0000"/>
<circle cx="643.2" cy="161.15" r="1.8" fill="#FF0000"/>
<circle cx="643.2" cy="163.85" r="1.8" fill="#FF0000"/>
<circle cx="643.2" cy="166.55" r="1.8" fill="#FF0000"/>
<circle cx="643.2" cy="169.25" r="1.8" fill="#FF0000"/>
<circle cx="643.2" cy="171.95" r="1.8" fill="#FF0000"/>
<circle cx="643.2" cy="174.65" r="1.8" fill="#FF0000"/>
<circle cx="643.2" cy="177.35" r="1.8" fill="#FF0000"/>
<circle cx="643.2" cy="180.05" r="1.8" fill="#FF0000"/>
<line x1="638.75" y1="182" x2="647.65" y2="182" stroke="#FF0000" stroke-width="2"/>
<line x1="637.3" y1="189.5" x2="637.3" y2="192.2" stroke="#000000" stroke-width="1.07"/>
<text x="637.3" y="34.4" text-anchor="middle" class="st">***</text>
<text transform="translate(642.6 198.6) rotate(-45)" text-anchor="end" class="xl">Eosinophils</text>
<circle cx="660.89" cy="157.1" r="1.95" fill="#0000FF"/>
<line x1="660.89" y1="174.05" x2="660.89" y2="180.05" stroke="#0000FF" stroke-width="2.6" stroke-linecap="round"/>
<circle cx="660.89" cy="174.05" r="1.8" fill="#0000FF"/>
<circle cx="660.89" cy="177.05" r="1.8" fill="#0000FF"/>
<circle cx="660.89" cy="180.05" r="1.8" fill="#0000FF"/>
<line x1="656.44" y1="182" x2="665.34" y2="182" stroke="#0000FF" stroke-width="2"/>
<circle cx="672.69" cy="157" r="1.95" fill="#FF0000"/>
<circle cx="672.69" cy="161.5" r="1.95" fill="#FF0000"/>
<line x1="672.69" y1="165.55" x2="672.69" y2="180.05" stroke="#FF0000" stroke-width="2.6" stroke-linecap="round"/>
<circle cx="672.69" cy="165.55" r="1.8" fill="#FF0000"/>
<circle cx="672.69" cy="168.45" r="1.8" fill="#FF0000"/>
<circle cx="672.69" cy="171.35" r="1.8" fill="#FF0000"/>
<circle cx="672.69" cy="174.25" r="1.8" fill="#FF0000"/>
<circle cx="672.69" cy="177.15" r="1.8" fill="#FF0000"/>
<circle cx="672.69" cy="180.05" r="1.8" fill="#FF0000"/>
<line x1="668.24" y1="182" x2="677.14" y2="182" stroke="#FF0000" stroke-width="2"/>
<line x1="666.79" y1="189.5" x2="666.79" y2="192.2" stroke="#000000" stroke-width="1.07"/>
<text x="666.79" y="34.4" text-anchor="middle" class="st">*</text>
<text transform="translate(672.09 198.6) rotate(-45)" text-anchor="end" class="xl">Neutrophils</text>
<text transform="translate(8.2 109.8) rotate(-90)" text-anchor="middle" class="yt">Gene expression</text>
<text x="299.8" y="9.4" class="lt">Type</text>
<g stroke="#0000FF" fill="none"><line x1="331.45" y1="0" x2="331.45" y2="2.5" stroke-width="1"/><line x1="331.45" y1="9.3" x2="331.45" y2="11.9" stroke-width="1"/><rect x="326.5" y="2.5" width="9.9" height="6.8" stroke-width="1"/><line x1="326.5" y1="6" x2="336.4" y2="6" stroke-width="1.1"/></g>
<text x="343.3" y="8.9" class="lx">Normal</text>
<g stroke="#FF0000" fill="none"><line x1="380.95" y1="0" x2="380.95" y2="2.5" stroke-width="1"/><line x1="380.95" y1="9.3" x2="380.95" y2="11.9" stroke-width="1"/><rect x="375.7" y="2.5" width="10.5" height="6.8" stroke-width="1"/><line x1="375.7" y1="6" x2="386.2" y2="6" stroke-width="1.1"/></g>
<text x="393" y="8.9" class="lx" textLength="21.6" lengthAdjust="spacingAndGlyphs">Tumor</text>
</svg>
</body></html>
